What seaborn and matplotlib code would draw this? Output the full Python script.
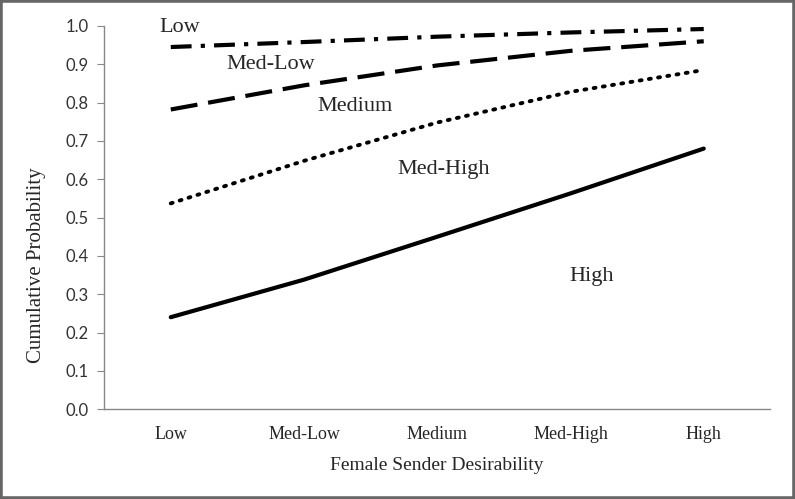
import matplotlib
matplotlib.use("Agg")
import matplotlib.pyplot as plt
import seaborn as sns
import pandas as pd
import numpy as np

# x categories and the cumulative probability of each threshold
categories = ["Low", "Med-Low", "Medium", "Med-High", "High"]
low_line = [0.945, 0.958, 0.972, 0.983, 0.992]
medlow_line = [0.782, 0.845, 0.897, 0.935, 0.960]
medium_line = [0.537, 0.648, 0.748, 0.828, 0.885]
medhigh_line = [0.240, 0.338, 0.450, 0.563, 0.680]
series_names = ["Low", "Med-Low", "Medium", "Med-High"]

df = pd.DataFrame({
    "Female Sender Desirability": categories * 4,
    "Cumulative Probability": low_line + medlow_line + medium_line + medhigh_line,
    "series": [s for s in series_names for _ in categories],
})
df["pos"] = df["Female Sender Desirability"].map({c: i for i, c in enumerate(categories)})

sns.set_style("white")
serif = ["Liberation Serif", "DejaVu Serif"]
plt.rcParams["font.family"] = serif

fig = plt.figure(figsize=(7.95, 4.99), dpi=100)
ax = fig.add_axes([0.131, 0.180, 0.838, 0.768])

dashes = {"Low": (5, 2.2, 1, 2.2), "Med-Low": (6.5, 2.6), "Medium": (0.5, 1.9), "Med-High": ""}
sns.lineplot(data=df, x="pos", y="Cumulative Probability", style="series",
             dashes=dashes, color="black", linewidth=3, legend=False, ax=ax)
for line in ax.lines:
    line.set_dash_capstyle("butt")
ax.lines[2].set_dash_capstyle("round")
ax.lines[2].set_linewidth(2.8)

ax.set_xlim(-0.5, 4.5)
ax.set_ylim(0, 1.0)
ax.set_yticks(np.arange(0, 1.01, 0.1))
ax.set_yticklabels([f"{v:.1f}" for v in np.arange(0, 1.01, 0.1)],
                   family=["Lato", "DejaVu Sans"], fontsize=12, color="#333333")
ax.set_xticks(range(5))
ax.set_xticklabels(categories, fontsize=13)
ax.set_xticks(np.arange(-0.5, 4.6, 1), minor=True)
ax.tick_params(axis="x", which="major", length=0, pad=12)
ax.tick_params(axis="x", which="minor", length=5, color="#888888", direction="out")
ax.tick_params(axis="y", length=5, color="#888888", direction="out", left=True, pad=6)

ax.set_xlabel("Female Sender Desirability", fontsize=14, labelpad=10)
ax.set_ylabel("Cumulative Probability", fontsize=15)
ax.yaxis.set_label_coords(-0.088, 0.375)

sns.despine(ax=ax)
for side in ["left", "bottom"]:
    ax.spines[side].set_color("#888888")
    ax.spines[side].set_linewidth(1)

# region labels between the threshold curves
labels = [("Low", 0.07, 0.995), ("Med-Low", 0.75, 0.900), ("Medium", 1.38, 0.79),
          ("Med-High", 2.05, 0.625), ("High", 3.16, 0.345)]
for txt, x, y in labels:
    ax.text(x, y, txt, fontsize=16, ha="center", va="center", clip_on=False)

# gray frame around the picture
fig.patches.append(plt.Rectangle((0, 0), 1, 1, transform=fig.transFigure,
                                 fill=False, edgecolor="#666666", linewidth=4))

fig.savefig("out.png", dpi=100)
